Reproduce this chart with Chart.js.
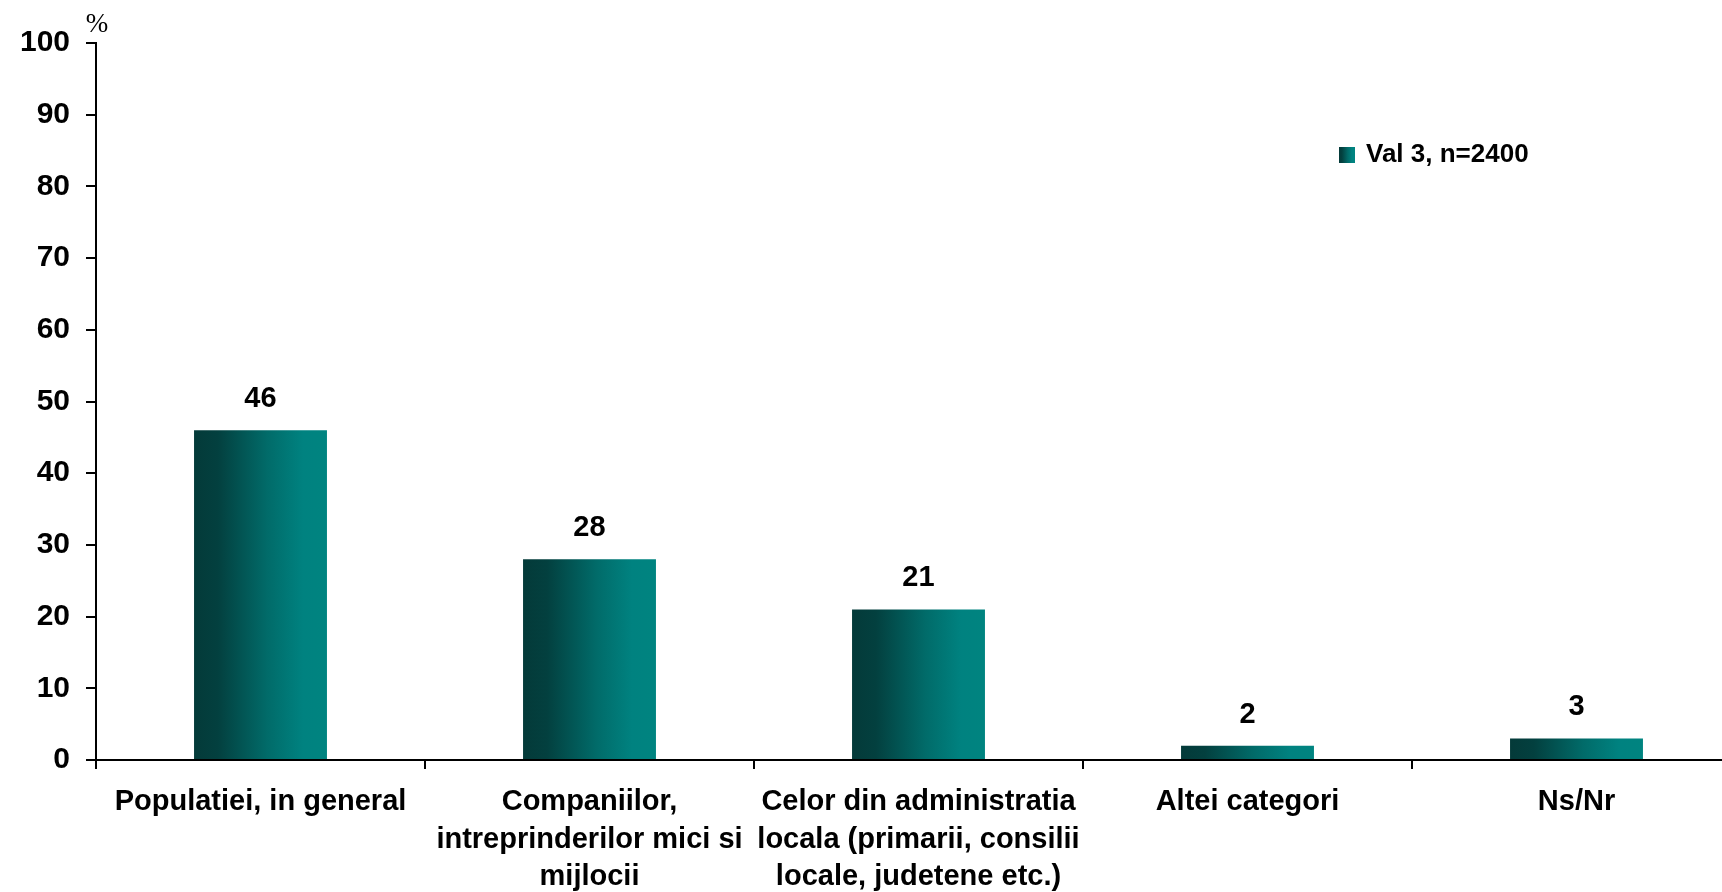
<!DOCTYPE html>
<html>
<head>
<meta charset="utf-8">
<script src="https://cdn.jsdelivr.net/npm/chart.js@4.4.1/dist/chart.umd.min.js"></script>
<style>
  html, body { margin: 0; padding: 0; overflow: hidden; background: #ffffff; width: 1722px; height: 892px; }
  #wrap { position: absolute; left: 0; top: 0; width: 1760px; height: 892px; }
</style>
</head>
<body>
<div id="wrap"><canvas id="c"></canvas></div>
<script>
const categories = [
  "Populatiei, in general",
  ["Companiilor,", "intreprinderilor mici si", "mijlocii"],
  ["Celor din administratia", "locala (primarii, consilii", "locale, judetene etc.)"],
  "Altei categori",
  "Ns/Nr"
];
const seriesName = "Val 3, n=2400";
const values = [46, 28, 21, 2, 3];
const yTicks = [0, 10, 20, 30, 40, 50, 60, 70, 80, 90, 100];
const unitLabel = "%";

const FONT = "'Liberation Sans', Arial, sans-serif";
const BAR_PCT = 0.404;

function makeGrad(ctx, x0, x1) {
  const g = ctx.createLinearGradient(x0, 0, x1, 0);
  g.addColorStop(0, '#043a39');
  g.addColorStop(0.18, '#03403f');
  g.addColorStop(0.55, '#016b69');
  g.addColorStop(0.82, '#008280');
  g.addColorStop(1, '#008480');
  return g;
}

const barGradient = (c) => {
  const chart = c.chart;
  const xs = chart.scales.x;
  if (!chart.chartArea || !xs || c.dataIndex === undefined) return '#008080';
  const cx = xs.getPixelForValue(c.dataIndex);
  const w = (xs.width / categories.length) * BAR_PCT;
  return makeGrad(chart.ctx, cx - w / 2, cx + w / 2);
};

const valueLabels = {
  id: 'valueLabels',
  afterDatasetsDraw(chart) {
    const ctx = chart.ctx;
    const meta = chart.getDatasetMeta(0);
    ctx.save();
    ctx.font = `bold 29px ${FONT}`;
    ctx.fillStyle = '#000';
    ctx.textAlign = 'center';
    ctx.textBaseline = 'middle';
    meta.data.forEach((el, i) => {
      ctx.fillText(String(values[i]), el.x, el.y - 31);
    });
    ctx.restore();
  }
};

const extras = {
  id: 'extras',
  afterDraw(chart) {
    const ctx = chart.ctx;
    const a = chart.chartArea;
    ctx.save();
    ctx.font = `27px 'Liberation Serif', 'Times New Roman', serif`;
    ctx.fillStyle = '#000';
    ctx.textAlign = 'center';
    ctx.textBaseline = 'middle';
    ctx.fillText(unitLabel, a.left + 1, 25);
    const sx = 1339, sy = 147, s = 16;
    ctx.fillStyle = makeGrad(ctx, sx, sx + s);
    ctx.fillRect(sx, sy, s, s);
    ctx.font = `bold 26px ${FONT}`;
    ctx.fillStyle = '#000';
    ctx.textAlign = 'left';
    ctx.textBaseline = 'middle';
    ctx.fillText(chart.data.datasets[0].label, 1366, 155);
    ctx.restore();
  }
};

new Chart(document.getElementById('c'), {
  type: 'bar',
  data: {
    labels: categories,
    datasets: [{
      label: seriesName,
      data: values,
      backgroundColor: barGradient,
      borderWidth: 0,
      barPercentage: BAR_PCT,
      categoryPercentage: 1.0
    }]
  },
  options: {
    responsive: true,
    maintainAspectRatio: false,
    animation: false,
    layout: { padding: { left: 0, top: 43, right: 19, bottom: 0 } },
    plugins: {
      legend: { display: false },
      tooltip: { enabled: false },
      title: { display: false }
    },
    scales: {
      x: {
        offset: true,
        grid: {
          offset: true,
          drawOnChartArea: false,
          drawTicks: true,
          tickLength: 9,
          color: '#000',
          lineWidth: 2
        },
        border: { display: true, color: '#000', width: 2 },
        ticks: {
          color: '#000',
          font: { family: FONT, size: 29, weight: 'bold', lineHeight: 1.3 },
          padding: 14,
          maxRotation: 0,
          autoSkip: false
        },
        afterFit(scale) { scale.height = 132; }
      },
      y: {
        min: 0,
        max: 100,
        afterBuildTicks(scale) { scale.ticks = yTicks.map(v => ({ value: v })); },
        grid: {
          drawOnChartArea: false,
          drawTicks: true,
          tickLength: 10,
          color: '#000',
          lineWidth: 2
        },
        border: { display: true, color: '#000', width: 2 },
        ticks: {
          color: '#000',
          font: { family: FONT, size: 30, weight: 'bold' },
          padding: 16
        },
        afterFit(scale) { scale.width = 96; }
      }
    }
  },
  plugins: [valueLabels, extras]
});
</script>
</body>
</html>
